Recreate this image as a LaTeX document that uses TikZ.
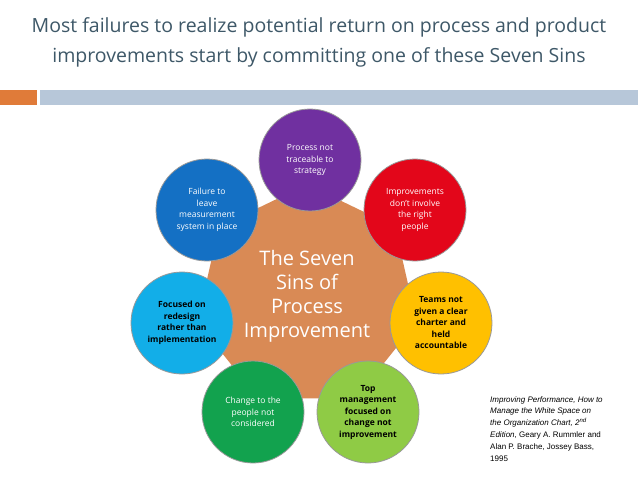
\documentclass[tikz,border=0pt]{standalone}
\usepackage{fontspec}
\usetikzlibrary{shapes.geometric}
\setmainfont{Open Sans}
\newfontfamily\arialf{Liberation Sans}
\definecolor{titlec}{HTML}{3E5868}
\definecolor{barO}{HTML}{E07B39}
\definecolor{barB}{HTML}{B7C7D9}
\definecolor{cOr}{HTML}{D98A55}
\definecolor{cPu}{HTML}{7030A0}
\definecolor{cRe}{HTML}{E3061A}
\definecolor{cYe}{HTML}{FFC000}
\definecolor{cLg}{HTML}{8FCB45}
\definecolor{cGr}{HTML}{12A24E}
\definecolor{cLb}{HTML}{12AEE8}
\definecolor{cBl}{HTML}{1470C4}
\tikzset{sat/.style={circle,minimum size=102pt,inner sep=0pt,align=center,font=\fontsize{8.5}{11.5}\selectfont,text=white,draw=black!40,line width=0.8pt},
 dk/.style={text=black,font=\fontsize{8.5}{11.5}\selectfont\bfseries}}
\begin{document}
\begin{tikzpicture}[x=1pt,y=-1pt]
\useasboundingbox (0,0) rectangle (638,479);
\fill[white] (0,0) rectangle (638,479);
\node[text=titlec,font=\fontsize{19.5}{30}\selectfont,align=center] (title) at (319,42) {Most failures to realize potential return on process and product\\improvements start by committing one of these Seven Sins};
\fill[barO] (0,90) rectangle (37,105);
\fill[barB] (40,90) rectangle (638,105);
\node[regular polygon,regular polygon sides=14,minimum size=208pt,fill=cOr,inner sep=0pt] (c) at (307,297) {};
\node[text=white,font=\fontsize{20}{24}\selectfont,align=center] (ct) at (307,296) {The Seven\\Sins of\\Process\\Improvement};
\node[sat,fill=cPu] (p) at (310,160) {Process not\\traceable to\\strategy};
\node[sat,fill=cRe] (r) at (415,210) {Improvements\\don't involve\\the right\\people};
\node[sat,fill=cYe,dk] (y) at (441,323) {Teams not\\given a clear\\charter and\\held\\accountable};
\node[sat,fill=cLg,dk] (lg) at (368,412) {Top\\management\\focused on\\change not\\improvement};
\node[sat,fill=cGr] (g) at (253,412) {Change to the\\people not\\considered};
\node[sat,fill=cLb,dk] (lb) at (182,323) {Focused on\\redesign\\rather than\\implementation};
\node[sat,fill=cBl] (b) at (207,210) {Failure to\\leave\\measurement\\system in place};
\node[anchor=north west,align=left,font=\arialf\fontsize{8}{11.8}\selectfont,inner sep=0pt] (cite) at (490,396) {\itshape Improving Performance, How to\\\itshape Manage the White Space on\\\itshape the Organization Chart, 2\textsuperscript{nd}\\\itshape Edition\upshape, Geary A. Rummler and\\Alan P. Brache, Jossey Bass,\\1995};
\end{tikzpicture}
\end{document}
